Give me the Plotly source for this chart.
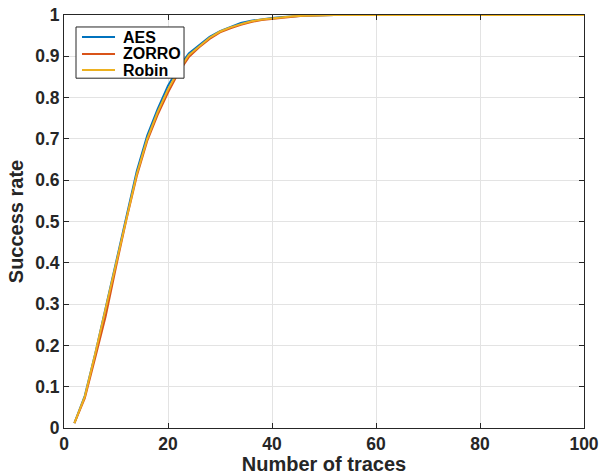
import plotly.graph_objects as go

traces = list(range(2, 101, 2))

aes = [0.012, 0.078, 0.18, 0.292, 0.405, 0.515, 0.622, 0.708, 0.772, 0.829,
       0.872, 0.907, 0.928, 0.947, 0.961, 0.971, 0.981, 0.986, 0.99, 0.993,
       0.995, 0.997, 0.998, 0.999] + [1.0] * 26
zorro = [0.012, 0.072, 0.17, 0.27, 0.39, 0.505, 0.61, 0.695, 0.758, 0.812,
         0.86, 0.898, 0.922, 0.942, 0.958, 0.968, 0.976, 0.983, 0.988, 0.991,
         0.994, 0.996, 0.998, 0.999] + [1.0] * 26
robin = [0.012, 0.076, 0.18, 0.29, 0.40, 0.51, 0.615, 0.70, 0.765, 0.82,
         0.865, 0.903, 0.925, 0.945, 0.96, 0.97, 0.978, 0.985, 0.989, 0.992,
         0.995, 0.997, 0.998, 0.999] + [1.0] * 26

series_names = ["AES", "ZORRO", "Robin"]
series_values = [aes, zorro, robin]
series_colors = ["#0072BD", "#D95319", "#EDB120"]

FONT = "Liberation Sans, Arial, Helvetica, sans-serif"
INK = "#262626"

fig = go.Figure()
for name, vals, col in zip(series_names, series_values, series_colors):
    fig.add_trace(go.Scatter(x=traces, y=vals, mode="lines", name=name,
                             line=dict(color=col, width=2), showlegend=False))

axis_common = dict(showline=True, linecolor=INK, linewidth=1, mirror="ticks",
                   ticks="inside", ticklen=5, tickcolor=INK, automargin=False,
                   ticklabeloverflow="allow",
                   showgrid=True, gridcolor="#e3e3e3", gridwidth=1, zeroline=False,
                   tickfont=dict(family=FONT, size=17.5, color=INK, weight="bold"))

fig.update_layout(
    width=600, height=475,
    margin=dict(l=64, r=16, t=15, b=47),
    paper_bgcolor="white", plot_bgcolor="white",
    font=dict(family=FONT, color=INK),
    xaxis=dict(range=[0, 100], dtick=20,
               title=dict(text="Number of traces", standoff=4,
                          font=dict(family=FONT, size=20, color=INK, weight="bold")),
               **axis_common),
    yaxis=dict(range=[0, 1], dtick=0.1,
               title=dict(text="Success rate", standoff=6,
                          font=dict(family=FONT, size=20, color=INK, weight="bold")),
               **axis_common),
    showlegend=False,
)

# Compact MATLAB-style legend box (paper coordinates)
lx0, lx1, ly0, ly1 = 0.0231, 0.2308, 0.847, 0.971
fig.add_shape(type="rect", xref="paper", yref="paper", x0=lx0, x1=lx1, y0=ly0, y1=ly1,
              line=dict(color=INK, width=1), fillcolor="white", layer="above")
row_y = [0.9467, 0.9056, 0.8668]
for name, col, ry in zip(series_names, series_colors, row_y):
    fig.add_shape(type="line", xref="paper", yref="paper", x0=0.0346, x1=0.0981,
                  y0=ry, y1=ry, line=dict(color=col, width=2), layer="above")
    fig.add_annotation(xref="paper", yref="paper", x=0.1096, y=ry, text=name,
                       showarrow=False, xanchor="left", yanchor="middle",
                       font=dict(family=FONT, size=16, color="#000000", weight="bold"))

# Remove the browser's default 8px body margin so the figure fills the window.
fig.write_html("out.html", config={"displayModeBar": False},
               post_script="document.body.style.margin='0';")
